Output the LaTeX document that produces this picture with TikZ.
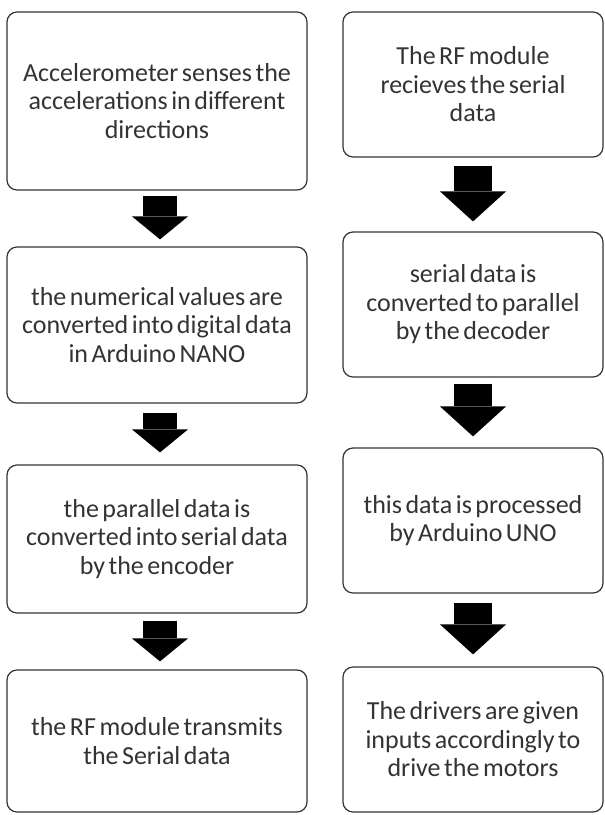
\documentclass[tikz,border=0pt]{standalone}
\usepackage{fontspec}
\setmainfont{Carlito}[WordSpace=0.6]
\usetikzlibrary{arrows.meta}

\begin{document}
\begin{tikzpicture}[x=1pt,y=-1pt,
    stage/.style={draw=black!80,line width=1.2pt,rounded corners=10pt,align=center,
        text=black!80,font=\fontsize{26}{28.5}\selectfont,inner sep=0pt},
    leftstage/.style={stage,minimum width=300pt},
    rightstage/.style={stage,minimum width=260pt},
    leftflow/.style={line width=34pt,-{Triangle[width=56pt,length=23pt,line width=0pt]}},
    rightflow/.style={line width=38pt,-{Triangle[width=66pt,length=30pt,line width=0pt]}}]
    \useasboundingbox (0,0) rectangle (605,815);

    \node[leftstage,minimum height=178pt] (sense) at (157,101) {Accelerometer senses the\\accelerations in different\\directions};
    \node[leftstage,minimum height=156pt] (nano) at (157,325) {the numerical values are\\converted into digital data\\in Arduino NANO};
    \node[leftstage,minimum height=148pt] (encode) at (157,539) {the parallel data is\\converted into serial data\\by the encoder};
    \node[leftstage,minimum height=142pt] (transmit) at (157,741) {the RF module transmits\\the Serial data};

    \node[rightstage,minimum height=145pt] (receive) at (473,84.5) {The RF module\\recieves the serial\\data};
    \node[rightstage,minimum height=145pt] (decode) at (473,304.5) {serial data is\\converted to parallel\\by the decoder};
    \node[rightstage,minimum height=145pt] (uno) at (473,520.5) {this data is processed\\by Arduino UNO};
    \node[rightstage,minimum height=145pt] (drive) at (473,739.5) {The drivers are given\\inputs accordingly to\\drive the motors};

    \draw[leftflow,shorten <=5pt,shorten >=7pt] ([xshift=3pt]sense.south) -- ([xshift=3pt]nano.north);
    \draw[leftflow,shorten <=9pt,shorten >=12pt] ([xshift=3pt]nano.south) -- ([xshift=3pt]encode.north);
    \draw[leftflow,shorten <=7pt,shorten >=8pt] ([xshift=3pt]encode.south) -- ([xshift=3pt]transmit.north);

    \draw[rightflow,shorten <=8pt,shorten >=10pt] (receive.south) -- (decode.north);
    \draw[rightflow,shorten <=6pt,shorten >=11pt] (decode.south) -- (uno.north);
    \draw[rightflow,shorten <=9pt,shorten >=12pt] (uno.south) -- (drive.north);
\end{tikzpicture}
\end{document}
